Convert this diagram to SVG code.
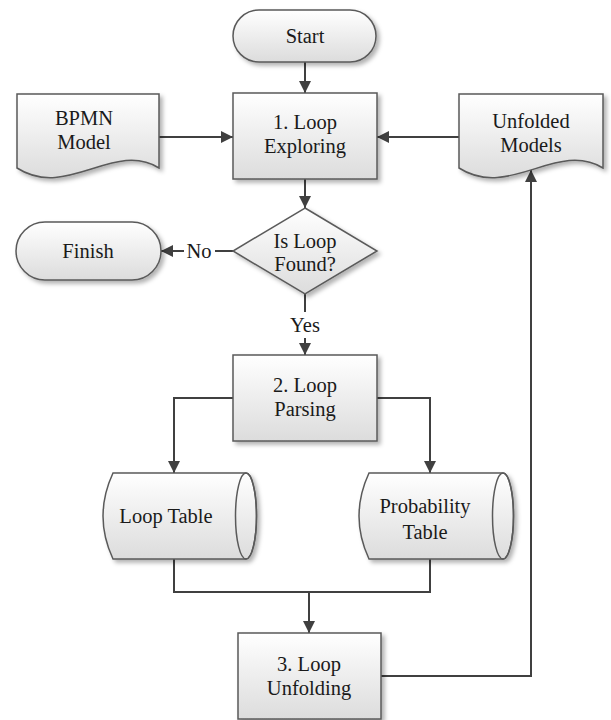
<svg xmlns="http://www.w3.org/2000/svg" width="611" height="720" viewBox="0 0 611 720">
  <defs>
    <linearGradient id="fillGrad" x1="0" y1="0" x2="0" y2="1">
      <stop offset="0" stop-color="#ffffff"/>
      <stop offset="1" stop-color="#dcdcdc"/>
    </linearGradient>
    <filter id="shadow" x="-10%" y="-10%" width="130%" height="130%">
      <feGaussianBlur in="SourceAlpha" stdDeviation="2"/>
      <feOffset dx="3" dy="3" result="off"/>
      <feFlood flood-color="#000" flood-opacity="0.3"/>
      <feComposite in2="off" operator="in"/>
      <feMerge>
        <feMergeNode/>
        <feMergeNode in="SourceGraphic"/>
      </feMerge>
    </filter>
    <marker id="arrow" viewBox="0 0 10 10" refX="10" refY="5" markerWidth="6" markerHeight="6" orient="auto" markerUnits="strokeWidth">
      <path d="M0,0 L10,5 L0,10 Z" fill="#404040"/>
    </marker>
  </defs>
  <style>
    .shape { fill: url(#fillGrad); stroke: #5a5a5a; stroke-width: 1.5; filter: url(#shadow); }
    .edge { fill: none; stroke: #404040; stroke-width: 2; }
    .inner { fill: none; stroke: #5a5a5a; stroke-width: 1.5; }
    .label { font-family: "Liberation Serif", "Times New Roman", Times, "Nimbus Roman", "Noto Serif", "DejaVu Serif", serif; font-size: 20.5px; fill: #1a1a1a; text-anchor: middle; }
  </style>

  <!-- connectors -->
  <g id="connectors">
    <path class="edge" d="M305,62 V93" marker-end="url(#arrow)"/>
    <path class="edge" d="M159,137 H233" marker-end="url(#arrow)"/>
    <path class="edge" d="M459,137 H377" marker-end="url(#arrow)"/>
    <path class="edge" d="M305,179 V208" marker-end="url(#arrow)"/>
    <path class="edge" d="M233,251 H215"/>
    <path class="edge" d="M184,251 H161" marker-end="url(#arrow)"/>
    <text class="label" x="199" y="258">No</text>
    <path class="edge" d="M305,294 V312"/>
    <text class="label" x="305" y="332">Yes</text>
    <path class="edge" d="M305,338 V355" marker-end="url(#arrow)"/>
    <path class="edge" d="M233,398 H174 V473" marker-end="url(#arrow)"/>
    <path class="edge" d="M377,398 H430 V473" marker-end="url(#arrow)"/>
    <path class="edge" d="M174,559 V592 H430 V559"/>
    <path class="edge" d="M309,592 V633" marker-end="url(#arrow)"/>
    <path class="edge" d="M381,676 H531 V170" marker-end="url(#arrow)"/>
  </g>

  <!-- terminal: start -->
  <g id="start">
    <rect class="shape" x="233" y="10" width="143" height="52" rx="26"/>
    <text class="label" x="305" y="43">Start</text>
  </g>

  <!-- document: input model -->
  <g id="bpmn-model">
    <path class="shape" d="M17,94 H159 V168 C114,140 67,200 17,168 Z"/>
    <text class="label" x="84" y="125">BPMN</text>
    <text class="label" x="84" y="149">Model</text>
  </g>

  <!-- process 1 -->
  <g id="loop-exploring">
    <rect class="shape" x="233" y="93" width="144" height="86"/>
    <text class="label" x="305" y="129">1. Loop</text>
    <text class="label" x="305" y="153">Exploring</text>
  </g>

  <!-- document: unfolded output -->
  <g id="unfolded-models">
    <path class="shape" d="M459,94 H603 V168 C557,140 509,200 459,168 Z"/>
    <text class="label" x="531" y="128">Unfolded</text>
    <text class="label" x="531" y="152">Models</text>
  </g>

  <!-- decision -->
  <g id="is-loop-found">
    <path class="shape" d="M305,208 L377,251 L305,294 L233,251 Z"/>
    <text class="label" x="305" y="248">Is Loop</text>
    <text class="label" x="305" y="271">Found?</text>
  </g>

  <!-- terminal: finish -->
  <g id="finish">
    <rect class="shape" x="16" y="222" width="145" height="58" rx="29"/>
    <text class="label" x="88" y="258">Finish</text>
  </g>

  <!-- process 2 -->
  <g id="loop-parsing">
    <rect class="shape" x="233" y="355" width="144" height="86"/>
    <text class="label" x="305" y="392">2. Loop</text>
    <text class="label" x="305" y="416">Parsing</text>
  </g>

  <!-- stored data: loop table -->
  <g id="loop-table">
    <path class="shape" d="M113,473 H246 A10.5,43 0 0 1 246,559 H113 Q93,516 113,473 Z"/>
    <ellipse class="inner" cx="246" cy="516" rx="10.5" ry="43"/>
    <text class="label" x="166" y="523">Loop Table</text>
  </g>

  <!-- stored data: probability table -->
  <g id="probability-table">
    <path class="shape" d="M369,473 H503 A10.5,43 0 0 1 503,559 H369 Q349,516 369,473 Z"/>
    <ellipse class="inner" cx="503" cy="516" rx="10.5" ry="43"/>
    <text class="label" x="425" y="513">Probability</text>
    <text class="label" x="425" y="539">Table</text>
  </g>

  <!-- process 3 -->
  <g id="loop-unfolding">
    <rect class="shape" x="238" y="633" width="143" height="86"/>
    <text class="label" x="309" y="671">3. Loop</text>
    <text class="label" x="309" y="695">Unfolding</text>
  </g>
</svg>
